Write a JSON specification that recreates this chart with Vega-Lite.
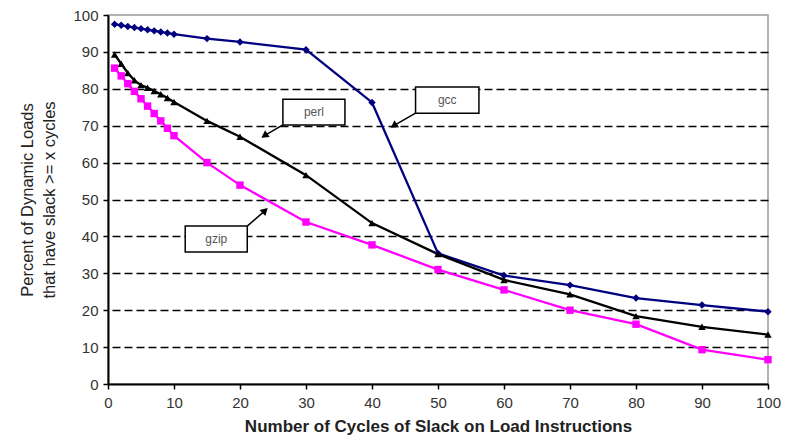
{
  "$schema": "https://vega.github.io/schema/vega-lite/v6.json",
  "autosize": "none",
  "width": 660,
  "height": 369,
  "padding": {"left": 108, "top": 15, "right": 24, "bottom": 60},
  "background": "white",
  "config": {
    "view": {"stroke": "#9a9a9a", "strokeWidth": 1.5},
    "font": "Liberation Sans"
  },
  "datasets": {
    "slack": [
      {"bench": "gcc", "cycles": 1, "pct": 97.5},
      {"bench": "gcc", "cycles": 2, "pct": 97.2},
      {"bench": "gcc", "cycles": 3, "pct": 96.9},
      {"bench": "gcc", "cycles": 4, "pct": 96.6},
      {"bench": "gcc", "cycles": 5, "pct": 96.3},
      {"bench": "gcc", "cycles": 6, "pct": 96.0},
      {"bench": "gcc", "cycles": 7, "pct": 95.7},
      {"bench": "gcc", "cycles": 8, "pct": 95.4},
      {"bench": "gcc", "cycles": 9, "pct": 95.1},
      {"bench": "gcc", "cycles": 10, "pct": 94.8},
      {"bench": "gcc", "cycles": 15, "pct": 93.6},
      {"bench": "gcc", "cycles": 20, "pct": 92.7},
      {"bench": "gcc", "cycles": 30, "pct": 90.6},
      {"bench": "gcc", "cycles": 40, "pct": 76.3},
      {"bench": "gcc", "cycles": 50, "pct": 35.4},
      {"bench": "gcc", "cycles": 60, "pct": 29.4},
      {"bench": "gcc", "cycles": 70, "pct": 26.8},
      {"bench": "gcc", "cycles": 80, "pct": 23.3},
      {"bench": "gcc", "cycles": 90, "pct": 21.4},
      {"bench": "gcc", "cycles": 100, "pct": 19.6},
      {"bench": "perl", "cycles": 1, "pct": 89.3},
      {"bench": "perl", "cycles": 2, "pct": 86.8},
      {"bench": "perl", "cycles": 3, "pct": 84.3},
      {"bench": "perl", "cycles": 4, "pct": 82.3},
      {"bench": "perl", "cycles": 5, "pct": 81.0},
      {"bench": "perl", "cycles": 6, "pct": 80.3},
      {"bench": "perl", "cycles": 7, "pct": 79.4},
      {"bench": "perl", "cycles": 8, "pct": 78.5},
      {"bench": "perl", "cycles": 9, "pct": 77.5},
      {"bench": "perl", "cycles": 10, "pct": 76.4},
      {"bench": "perl", "cycles": 15, "pct": 71.3},
      {"bench": "perl", "cycles": 20, "pct": 67.0},
      {"bench": "perl", "cycles": 30, "pct": 56.6},
      {"bench": "perl", "cycles": 40, "pct": 43.6},
      {"bench": "perl", "cycles": 50, "pct": 35.2},
      {"bench": "perl", "cycles": 60, "pct": 28.2},
      {"bench": "perl", "cycles": 70, "pct": 24.3},
      {"bench": "perl", "cycles": 80, "pct": 18.4},
      {"bench": "perl", "cycles": 90, "pct": 15.5},
      {"bench": "perl", "cycles": 100, "pct": 13.4},
      {"bench": "gzip", "cycles": 1, "pct": 85.6},
      {"bench": "gzip", "cycles": 2, "pct": 83.5},
      {"bench": "gzip", "cycles": 3, "pct": 81.4},
      {"bench": "gzip", "cycles": 4, "pct": 79.3},
      {"bench": "gzip", "cycles": 5, "pct": 77.3},
      {"bench": "gzip", "cycles": 6, "pct": 75.3},
      {"bench": "gzip", "cycles": 7, "pct": 73.3},
      {"bench": "gzip", "cycles": 8, "pct": 71.3},
      {"bench": "gzip", "cycles": 9, "pct": 69.3},
      {"bench": "gzip", "cycles": 10, "pct": 67.3},
      {"bench": "gzip", "cycles": 15, "pct": 60.0},
      {"bench": "gzip", "cycles": 20, "pct": 53.9},
      {"bench": "gzip", "cycles": 30, "pct": 43.9},
      {"bench": "gzip", "cycles": 40, "pct": 37.7},
      {"bench": "gzip", "cycles": 50, "pct": 31.0},
      {"bench": "gzip", "cycles": 60, "pct": 25.5},
      {"bench": "gzip", "cycles": 70, "pct": 20.0},
      {"bench": "gzip", "cycles": 80, "pct": 16.2},
      {"bench": "gzip", "cycles": 90, "pct": 9.3},
      {"bench": "gzip", "cycles": 100, "pct": 6.6}
    ],
    "callouts": [
      {"bench": "perl", "bx1": 26.5, "bx2": 35.9, "by1": 70.2, "by2": 77.2, "tx": 31.2, "ty": 73.7, "ax": 26.5, "ay": 70.2, "hx": 23.7, "hy": 67.3, "dir": "down"},
      {"bench": "gcc", "bx1": 46.6, "bx2": 56.2, "by1": 73.4, "by2": 80.5, "tx": 51.4, "ty": 76.9, "ax": 46.6, "ay": 73.4, "hx": 43.3, "hy": 70.0, "dir": "down"},
      {"bench": "gzip", "bx1": 11.7, "bx2": 21.1, "by1": 35.8, "by2": 42.8, "tx": 16.4, "ty": 39.3, "ax": 21.1, "ay": 42.8, "hx": 23.8, "hy": 47.0, "dir": "up"}
    ]
  },
  "resolve": {"axis": {"y": "independent"}},
  "layer": [
    {
      "data": {"name": "slack"},
      "mark": {"type": "line", "strokeWidth": 2.3},
      "encoding": {
        "x": {
          "field": "cycles", "type": "quantitative",
          "scale": {"domain": [0, 100], "nice": false},
          "axis": {
            "values": [0, 10, 20, 30, 40, 50, 60, 70, 80, 90, 100],
            "labelOverlap": false,
            "labelFlush": false,
            "title": "Number of Cycles of Slack on Load Instructions",
            "titleFont": "Liberation Sans", "titleFontSize": 17, "titleFontWeight": "bold",
            "titleColor": "#222", "titlePadding": 8,
            "labelFont": "Liberation Sans", "labelFontSize": 15, "labelColor": "#333",
            "labelPadding": 6,
            "domainColor": "#000", "domainWidth": 2,
            "tickColor": "#000", "tickWidth": 1.5, "tickSize": 5,
            "grid": false
          }
        },
        "y": {
          "field": "pct", "type": "quantitative",
          "scale": {"domain": [0, 100], "nice": false},
          "axis": {
            "orient": "left",
            "values": [0, 10, 20, 30, 40, 50, 60, 70, 80, 90, 100],
            "labelOverlap": false,
            "labelFlush": false,
            "title": ["Percent of Dynamic Loads", "that have slack >= x cycles"],
            "titleFont": "Liberation Sans", "titleFontSize": 16.5, "titleFontWeight": "normal",
            "titleColor": "#222", "titlePadding": 15, "titleLineHeight": 22,
            "labelFont": "Liberation Sans", "labelFontSize": 15, "labelColor": "#333",
            "labelPadding": 5,
            "domainColor": "#000", "domainWidth": 2,
            "tickColor": "#000", "tickWidth": 1.5, "tickSize": 5,
            "grid": false,
            "zindex": 2
          }
        },
        "color": {
          "field": "bench", "type": "nominal",
          "scale": {"domain": ["gcc", "perl", "gzip"], "range": ["#000080", "#000000", "#ff00ff"]},
          "legend": null
        },
        "order": {"field": "cycles", "type": "quantitative"}
      }
    },
    {
      "data": {"name": "slack"},
      "mark": {"type": "point", "filled": true, "size": 55, "opacity": 1},
      "encoding": {
        "x": {"field": "cycles", "type": "quantitative"},
        "y": {
          "field": "pct", "type": "quantitative",
          "axis": {
            "orient": "right",
            "values": [10, 20, 30, 40, 50, 60, 70, 80, 90],
            "labels": false, "ticks": false, "domain": false, "title": null,
            "grid": true,
            "gridColor": "#000",
            "gridDash": [8, 4],
            "gridWidth": 1.3
          }
        },
        "color": {"field": "bench", "type": "nominal", "legend": null},
        "shape": {
          "field": "bench", "type": "nominal",
          "scale": {"domain": ["gcc", "perl", "gzip"], "range": ["diamond", "triangle-up", "square"]},
          "legend": null
        }
      }
    },
    {
      "data": {"name": "callouts"},
      "mark": {"type": "rule", "color": "#000", "strokeWidth": 1.5},
      "encoding": {
        "x": {"field": "ax", "type": "quantitative"},
        "y": {"field": "ay", "type": "quantitative", "axis": null},
        "x2": {"field": "hx"},
        "y2": {"field": "hy"}
      }
    },
    {
      "data": {"name": "callouts"},
      "transform": [{"filter": "datum.dir === 'down'"}],
      "mark": {"type": "point", "shape": "triangle-up", "filled": true, "color": "#000", "size": 70, "angle": 236, "opacity": 1},
      "encoding": {
        "x": {"field": "hx", "type": "quantitative"},
        "y": {"field": "hy", "type": "quantitative", "axis": null}
      }
    },
    {
      "data": {"name": "callouts"},
      "transform": [{"filter": "datum.dir === 'up'"}],
      "mark": {"type": "point", "shape": "triangle-up", "filled": true, "color": "#000", "size": 70, "angle": 46, "opacity": 1},
      "encoding": {
        "x": {"field": "hx", "type": "quantitative"},
        "y": {"field": "hy", "type": "quantitative", "axis": null}
      }
    },
    {
      "data": {"name": "callouts"},
      "mark": {"type": "rect", "fill": "#fff", "stroke": "#000", "strokeWidth": 1.5},
      "encoding": {
        "x": {"field": "bx1", "type": "quantitative"},
        "x2": {"field": "bx2"},
        "y": {"field": "by1", "type": "quantitative", "axis": null},
        "y2": {"field": "by2"}
      }
    },
    {
      "data": {"name": "callouts"},
      "mark": {"type": "text", "font": "Liberation Sans", "fontSize": 12, "color": "#555", "align": "center", "baseline": "middle"},
      "encoding": {
        "x": {"field": "tx", "type": "quantitative"},
        "y": {"field": "ty", "type": "quantitative", "axis": null},
        "text": {"field": "bench"}
      }
    }
  ]
}
